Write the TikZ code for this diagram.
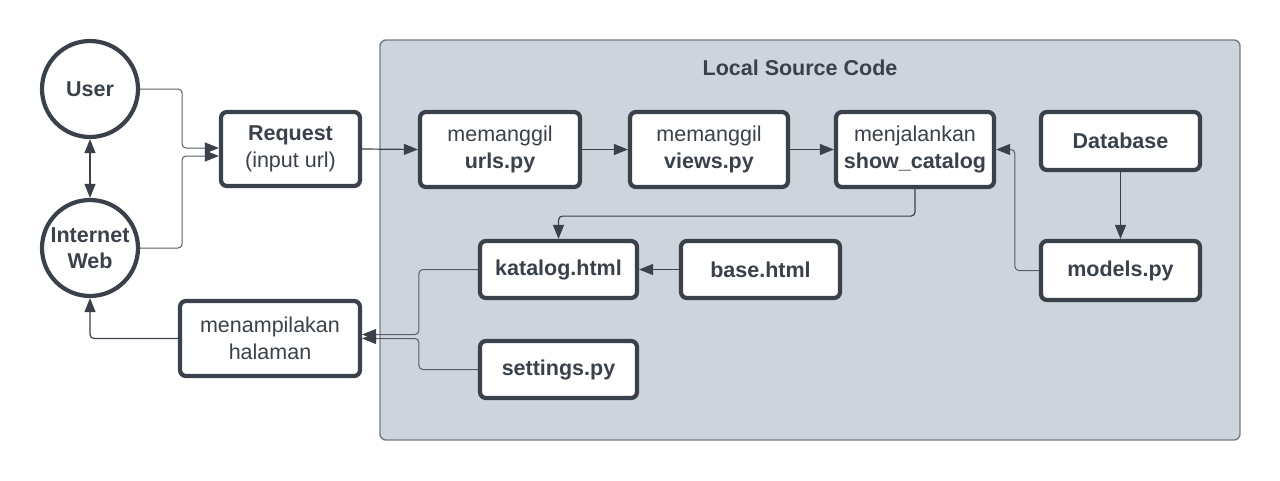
\documentclass[tikz,border=0pt]{standalone}
\usepackage{fontspec}
\setmainfont{Liberation Sans}
\usetikzlibrary{arrows.meta}
\definecolor{ink}{HTML}{3A414A}
\definecolor{panel}{HTML}{CDD4DC}
\definecolor{panelline}{HTML}{767C85}
\begin{document}
\begin{tikzpicture}[x=1pt,y=-1pt,
  every node/.style={text=ink, font=\fontsize{21.5}{26.5}\selectfont, align=center, inner sep=0pt},
  box/.style={draw=ink, fill=white, line width=4.2pt, rounded corners=6pt},
  circ/.style={draw=ink, fill=white, line width=4.2pt, circle, minimum size=96pt},
  conn/.style={draw=ink, line width=1.2pt, rounded corners=4pt, -{Triangle[length=14pt,width=11pt,color=ink]}},
  thin/.style={line width=1pt, draw=ink!85},
  ]
\useasboundingbox (0,0) rectangle (1280,480);
% container
\draw[fill=panel, draw=panelline, line width=1.4pt, rounded corners=6pt] (380,40) rectangle (1240,440);
\node[font=\fontsize{21.5}{26.5}\selectfont\bfseries] (title) at (800,68) {Local Source Code};

% nodes
\node[circ] (user) at (90,89) {\textbf{User}};
\node[circ] (inet) at (90,248) {\textbf{Internet}\\\textbf{Web}};
\node[box, minimum width=139pt, minimum height=74pt] (req) at (290.5,149) {\textbf{Request}\\(input url)};
\node[box, minimum width=180pt, minimum height=75pt] (page) at (270,338.5) {menampilakan\\halaman};
\node[box, minimum width=160pt, minimum height=75pt] (urls) at (500,149.5) {memanggil\\\textbf{urls.py}};
\node[box, minimum width=158pt, minimum height=75pt] (views) at (709,149.5) {memanggil\\\textbf{views.py}};
\node[box, minimum width=158pt, minimum height=75pt] (show) at (915,149.5) {menjalankan\\\textbf{show\_catalog}};
\node[box, minimum width=159pt, minimum height=58pt] (db) at (1120.5,141) {\textbf{Database}};
\node[box, minimum width=159pt, minimum height=59pt] (models) at (1120.5,270.5) {\textbf{models.py}};
\node[box, minimum width=157pt, minimum height=57pt] (katalog) at (558.5,269.5) {\textbf{katalog.html}};
\node[box, minimum width=159pt, minimum height=57pt] (base) at (760.5,269.5) {\textbf{base.html}};
\node[box, minimum width=157pt, minimum height=57pt] (settings) at (558.5,369.5) {\textbf{settings.py}};

% connectors
\draw[conn, thin] (user.east) -- ++(42,0) |- ([yshift=1pt]req.west);
\draw[conn, thin] (inet.east) -- ++(42,0) |- ([yshift=-7pt]req.west);
\draw[conn, {Triangle[length=14pt,width=11pt]}-{Triangle[length=14pt,width=11pt]}] (user.south) -- (inet.north);
\draw[conn] (req.east) -- (urls.west);
\draw[conn] (urls.east) -- (views.west);
\draw[conn] (views.east) -- (show.west);
\draw[conn] (db.south) -- (models.north);
\draw[conn, thin] (models.west) -- ++(-24,0) |- (show.east);
\draw[conn] (show.south) -- ++(0,27) -| (katalog.north);
\draw[conn] (base.west) -- (katalog.east);
\draw[conn, thin] (katalog.west) -- ++(-59,0) |- ([yshift=4pt]page.east);
\draw[conn, thin] (settings.west) -- ++(-59,0) |- (page.east);
\draw[conn] (page.west) -| (inet.south);
\end{tikzpicture}
\end{document}
